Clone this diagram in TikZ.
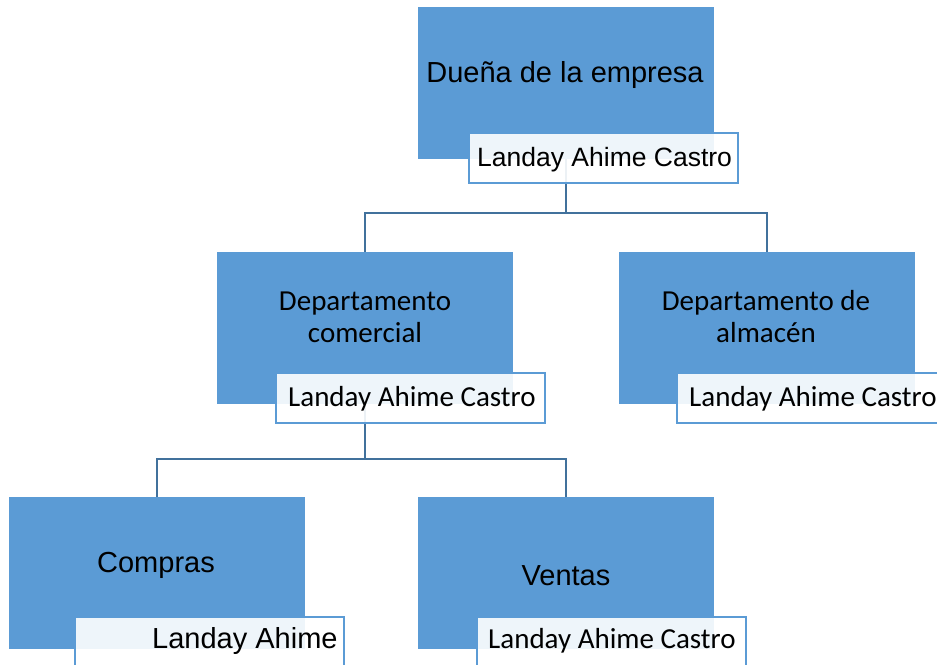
\documentclass[tikz,border=0pt]{standalone}
\usepackage{fontspec}
\newfontfamily\arialf{Liberation Sans}
\newfontfamily\calibrif{Carlito}
\definecolor{boxblue}{HTML}{5B9BD5}
\definecolor{linkblue}{HTML}{41719C}
\definecolor{labelborder}{HTML}{5B9BD5}
\tikzset{
  bluebox/.style={rectangle, fill=boxblue, inner sep=0pt, outer sep=0pt, minimum width=296pt, minimum height=152pt},
  namebox/.style={rectangle, draw=labelborder, line width=2pt, fill=white, fill opacity=0.9, inner sep=0pt, outer sep=0pt, minimum width=269pt, minimum height=50pt},
  link/.style={draw=linkblue, line width=2pt},
  atxt/.style={font=\arialf\fontsize{29}{32}\selectfont, inner sep=0pt, anchor=base},
  ctxt/.style={font=\calibrif\fontsize{29}{32}\selectfont, inner sep=0pt, anchor=base, align=center},
}
\begin{document}
\begin{tikzpicture}[x=1pt,y=-1pt]
\useasboundingbox (0,0) rectangle (937,664);
\clip (0,0) rectangle (937,664);
% boxes
\node[bluebox] (b0) at (566,83) {};
\node[bluebox] (b1) at (365,328) {};
\node[bluebox] (b2) at (766.5,328) {};
\node[bluebox] (b3) at (156.5,572.5) {};
\node[bluebox] (b4) at (566,572.5) {};
% junctions
\coordinate (j0) at (566,213);
\coordinate (j1) at (365,459);
% connectors
\draw[link] (b0.south) -- (j0) -| (b1.north);
\draw[link] (j0) -| (b2.north);
\draw[link] (b1.south) -- (j1) -| (b3.north);
\draw[link] (j1) -| (b4.north);
% redraw boxes over connectors
\fill[boxblue] (b0.south west) rectangle (b0.north east);
\fill[boxblue] (b1.south west) rectangle (b1.north east);
\fill[boxblue] (b2.south west) rectangle (b2.north east);
\fill[boxblue] (b3.south west) rectangle (b3.north east);
\fill[boxblue] (b4.south west) rectangle (b4.north east);
% box texts
\node[atxt] (t0) at (565,82) {Dueña de la empresa};
\node[ctxt] (t1a) at (365,310) {Departamento};
\node[ctxt] (t1b) at (365,342) {comercial};
\node[ctxt] (t2a) at (766,310) {Departamento de};
\node[ctxt] (t2b) at (766,342) {almacén};
\node[atxt] (t3) at (156,572) {Compras};
\node[atxt] (t4) at (566,585) {Ventas};
% name labels
\node[namebox] (n0) at (603.5,158) {};
\node[namebox] (n1) at (410.5,397.5) {};
\node[namebox] (n2) at (811.5,397.5) {};
\node[namebox] (n3) at (209.5,642) {};
\node[namebox] (n4) at (611.5,642) {};
\node[font=\arialf\fontsize{26.5}{30}\selectfont, inner sep=0pt, anchor=base west] (m0) at (477,166) {Landay Ahime Castro};
\node[ctxt, anchor=base west] (m1) at (288,406) {Landay Ahime Castro};
\node[ctxt, anchor=base west] (m2) at (689,406) {Landay Ahime Castro};
\node[atxt, anchor=base west] (m3) at (152,648) {Landay Ahime};
\node[ctxt, anchor=base west] (m4) at (488,648) {Landay Ahime Castro};
\end{tikzpicture}
\end{document}
